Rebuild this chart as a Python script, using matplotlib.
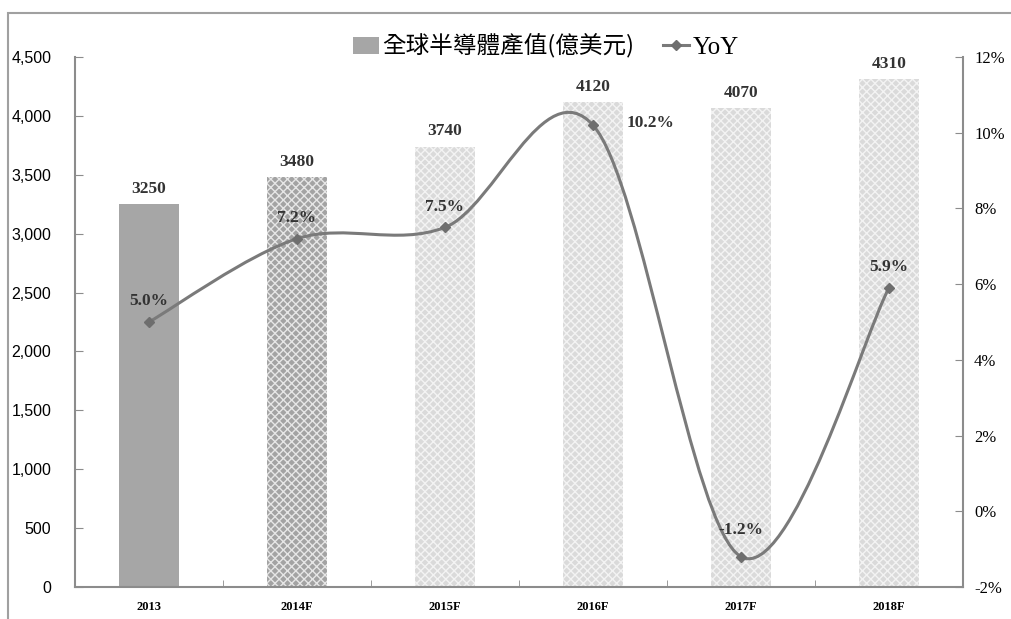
import numpy as np
import matplotlib
matplotlib.use("Agg")
import matplotlib.pyplot as plt
from matplotlib.path import Path
from matplotlib.patches import PathPatch, Patch, Rectangle
from matplotlib.lines import Line2D
from matplotlib.ticker import FuncFormatter

years = ["2013", "2014F", "2015F", "2016F", "2017F", "2018F"]
output = [3250, 3480, 3740, 4120, 4070, 4310]   # 億美元
yoy = [5.0, 7.2, 7.5, 10.2, -1.2, 5.9]          # %
yoy_labels = ["5.0%", "7.2%", "7.5%", "10.2%", "-1.2%", "5.9%"]

serif = "Liberation Serif"
cjk = ["Noto Sans CJK TC", "DejaVu Sans"]
grey = "#8c8c8c"

fig = plt.figure(figsize=(10.11, 6.19), dpi=100)
ax = fig.add_axes([75 / 1011, 32 / 619, 888 / 1011, 530 / 619])
ax2 = ax.twinx()

x = np.arange(len(years))
w = 0.41
faces = ["#a6a6a6", "#a3a3a3", "#dadada", "#dadada", "#dadada", "#dadada"]
hatches = [None, "xxxx", "xxxx", "xxxx", "xxxx", "xxxx"]
hcols = ["#a6a6a6", "#e6e6e6", "#f3f3f3", "#f3f3f3", "#f3f3f3", "#f3f3f3"]
for i in range(len(years)):
    ax.bar(x[i], output[i], width=w, color=faces[i], hatch=hatches[i],
           edgecolor=hcols[i], linewidth=0)
    ax.text(x[i], output[i] + 60, str(output[i]), ha="center", va="bottom",
            fontsize=12.5, fontweight="bold", family=serif, color="#333333")

ax.set_xlim(-0.5, len(years) - 0.5)
ax.set_ylim(0, 4500)
ax.set_yticks(np.arange(0, 4501, 500))
ax.yaxis.set_major_formatter(FuncFormatter(lambda v, p: f"{int(v):,}"))
ax.set_xticks(x)
ax.set_xticklabels(years, family=serif, fontsize=9, fontweight="bold")
ax.set_xticks(np.arange(0.5, len(years) - 0.5, 1), minor=True)
ax.tick_params(axis="x", which="major", length=0, pad=10)
ax.tick_params(axis="x", which="minor", direction="in", length=5, color=grey)
ax.tick_params(axis="y", direction="in", length=6, color=grey, labelsize=11.5, pad=17)
for lab in ax.get_yticklabels():
    lab.set_family("Liberation Sans")

for s in ["top", "right"]:
    ax.spines[s].set_visible(False)
for s in ["left", "bottom"]:
    ax.spines[s].set_color(grey)
    ax.spines[s].set_linewidth(1.5)
ax2.spines["top"].set_visible(False)
ax2.spines["left"].set_visible(False)
ax2.spines["bottom"].set_visible(False)
ax2.spines["right"].set_color(grey)
ax2.spines["right"].set_linewidth(1.5)

ax2.set_ylim(-2, 12)
ax2.set_yticks(np.arange(-2, 13, 2))
ax2.set_yticklabels([f"{v}%" for v in range(-2, 13, 2)], family=serif, fontsize=12)
ax2.tick_params(axis="y", direction="in", length=6, color=grey, pad=8)

# smoothed line, excel style bezier
pts = np.column_stack([x, yoy]).astype(float)
ext = np.vstack([pts[0], pts, pts[-1]])
verts = [tuple(pts[0])]
codes = [Path.MOVETO]
for i in range(len(pts) - 1):
    p0, p1, p2, p3 = ext[i], ext[i + 1], ext[i + 2], ext[i + 3]
    c1 = p1 + (p2 - p0) / 6
    c2 = p2 - (p3 - p1) / 6
    verts += [tuple(c1), tuple(c2), tuple(p2)]
    codes += [Path.CURVE4] * 3
ax2.add_patch(PathPatch(Path(verts, codes), fill=False, edgecolor="#7a7a7a", lw=2.2))
ax2.plot(x, yoy, ls="none", marker="D", ms=5.5, color="#6e6e6e")

offs = [(0, 0.55), (0, 0.55), (0, 0.55), (0.23, 0.05), (0, 0.7), (0, 0.55)]
for i, lab in enumerate(yoy_labels):
    ha = "left" if offs[i][0] > 0 else "center"
    ax2.text(x[i] + offs[i][0], yoy[i] + offs[i][1], lab, ha=ha, va="center",
             fontsize=12.5, fontweight="bold", family=serif, color="#333333")

handles = [Patch(facecolor="#a6a6a6", edgecolor="none"),
           Line2D([0], [0], color="#7a7a7a", lw=2.2, marker="D", ms=5.5,
                  markerfacecolor="#6e6e6e", markeredgecolor="#6e6e6e")]
leg = fig.legend(handles, ["全球半導體產值(億美元)", "YoY"], loc="center",
                 bbox_to_anchor=(0.54, 0.925), ncol=2, frameon=False,
                 prop={"family": cjk, "size": 17}, handlelength=1.1,
                 handletextpad=0.15, columnspacing=1.2)
leg.get_texts()[1].set_family(serif)
leg.get_texts()[1].set_fontsize(18)

fig.patches.append(Rectangle((8 / 1011, -0.1), 1.2, 1.1 - 13 / 619,
                             transform=fig.transFigure, fill=False,
                             edgecolor="#a0a0a0", lw=1.5))

fig.savefig("out.png", dpi=100)
